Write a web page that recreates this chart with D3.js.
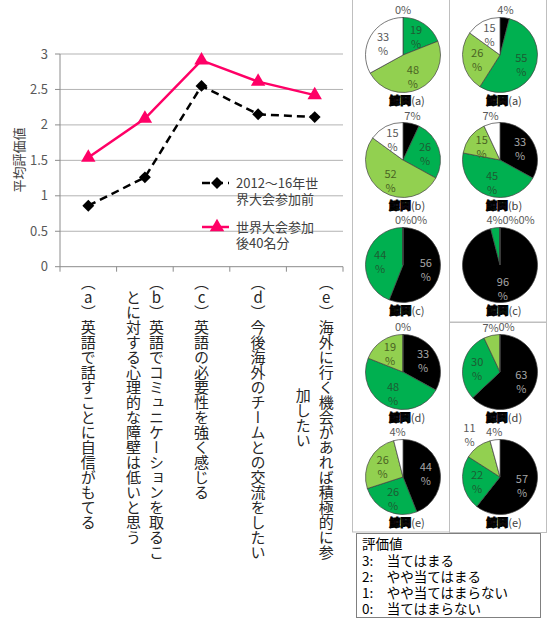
<!DOCTYPE html>
<html>
<head>
<meta charset="utf-8">
<script src="https://cdn.jsdelivr.net/npm/d3@7"></script>
<style>
  html, body { margin: 0; padding: 0; background: #fff; }
  svg { display: block; font-family: "Noto Sans CJK JP", "Noto Sans", sans-serif; }
</style>
</head>
<body>
<svg id="chart" width="547" height="618"></svg>
<script>
// ---- data ----
const items = ["a", "b", "c", "d", "e"];
const itemLabels = [
    ["（a）英語で話すことに自信がもてる"],
    ["（b）英語でコミュニケーションを取るこ", "とに対する心理的な障壁は低いと思う"],
    ["（c）英語の必要性を強く感じる"],
    ["（d）今後海外のチームとの交流をしたい"],
    ["（e）海外に行く機会があれば積極的に参", "加したい"]
];
const beforeMeans = [0.86, 1.26, 2.55, 2.15, 2.11];
const afterMeans = [1.54, 2.09, 2.91, 2.61, 2.42];
const seriesNames = [["2012～16年世", "界大会参加前"], ["世界大会参加", "後40名分"]];
const yTicks = [0, 0.5, 1, 1.5, 2, 2.5, 3];

// pie shares in % for score 3,2,1,0
const scoreLevels = [3, 2, 1, 0];
const scoreNames = ["当てはまる", "やや当てはまる", "やや当てはまらない", "当てはまらない"];
const beforePct = [[0, 19, 48, 33], [7, 26, 52, 15], [56, 44, 0, 0], [33, 48, 19, 0], [44, 26, 26, 4]];
const afterPct = [[4, 55, 26, 15], [33, 45, 15, 7], [96, 4, 0, 0], [63, 30, 7, 0], [57, 22, 11, 4]];
const pieTitle = "鯨岡";

const sliceColors = ["#000000", "#00b050", "#92d050", "#ffffff"];
const sliceText = ["#a6a6a6", "#1d5c33", "#4a6323", "#595959"];

const svg = d3.select("#chart");

// ---- line chart ----
const x = d3.scaleBand().domain(items).range([60, 343]);
const y = d3.scaleLinear().domain([0, 3]).range([266.7, 54]);

const g = svg.append("g");

g.selectAll("line.grid")
    .data(yTicks.slice(1)).join("line")
    .attr("x1", 60).attr("x2", 343)
    .attr("y1", d => y(d)).attr("y2", d => y(d))
    .attr("stroke", "#b3b3b3").attr("stroke-width", 1);

g.append("line").attr("x1", 60).attr("x2", 60).attr("y1", y(3)).attr("y2", y(0))
    .attr("stroke", "#8c8c8c");
g.append("line").attr("x1", 60).attr("x2", 343).attr("y1", y(0)).attr("y2", y(0))
    .attr("stroke", "#8c8c8c");

// tick marks at category boundaries
const bounds = items.map(d => x(d)).concat([343]);
g.selectAll("line.xt").data(bounds).join("line")
    .attr("x1", d => d).attr("x2", d => d)
    .attr("y1", y(0)).attr("y2", y(0) + 5)
    .attr("stroke", "#8c8c8c");
g.selectAll("line.yt").data(yTicks).join("line")
    .attr("x1", 55).attr("x2", 60)
    .attr("y1", d => y(d)).attr("y2", d => y(d))
    .attr("stroke", "#8c8c8c");

g.selectAll("text.ytl").data(yTicks).join("text")
    .attr("x", 48).attr("y", d => y(d) + 4.5)
    .attr("text-anchor", "end")
    .attr("font-size", 13).attr("fill", "#595959")
    .text(d => d);

g.append("text")
    .attr("transform", "translate(24,160) rotate(-90)")
    .attr("text-anchor", "middle")
    .attr("font-size", 13).attr("fill", "#404040")
    .text("平均評価値");

// vertical category labels
const labelTop = 275, lineGap = 23;
items.forEach((it, i) => {
    const lines = itemLabels[i];
    const cx = x(it) + x.bandwidth() / 2;
    const grp = g.append("g");
    const texts = grp.selectAll("text").data(lines).join("text")
        .attr("x", (d, j) => cx + (lines.length - 1) / 2 * lineGap - j * lineGap)
        .attr("y", labelTop)
        .attr("text-anchor", "middle")
        .attr("font-size", 15)
        .attr("fill", "#262626")
        .style("writing-mode", "vertical-rl")
        .style("text-orientation", "upright")
        .text(d => d);
    const maxLen = d3.max(texts.nodes(), n => n.getComputedTextLength());
    texts.attr("y", labelTop + maxLen / 2);
});

// series lines
const lineGen = d3.line().x((d, i) => x(items[i]) + x.bandwidth() / 2).y(d => y(d));

g.append("path").datum(beforeMeans)
    .attr("d", lineGen).attr("fill", "none")
    .attr("stroke", "#000").attr("stroke-width", 2.5)
    .attr("stroke-dasharray", "8,5");
g.append("path").datum(afterMeans)
    .attr("d", lineGen).attr("fill", "none")
    .attr("stroke", "#ff0066").attr("stroke-width", 2.5);

const diamond = d3.symbol().type(d3.symbolDiamond2).size(90);
const tri = d3.symbol().type(d3.symbolTriangle).size(90);

g.selectAll("path.dm").data(beforeMeans).join("path")
    .attr("d", diamond)
    .attr("transform", (d, i) => `translate(${x(items[i]) + x.bandwidth() / 2},${y(d)})`)
    .attr("fill", "#000");
g.selectAll("path.tr").data(afterMeans).join("path")
    .attr("d", tri)
    .attr("transform", (d, i) => `translate(${x(items[i]) + x.bandwidth() / 2},${y(d)})`)
    .attr("fill", "#ff0066");

// legend
const lg = g.append("g").attr("transform", "translate(202,183)");
lg.append("line").attr("x1", 0).attr("x2", 27).attr("y1", 0).attr("y2", 0)
    .attr("stroke", "#000").attr("stroke-width", 2.5).attr("stroke-dasharray", "8,5");
lg.append("path").attr("d", diamond).attr("transform", "translate(15,0)").attr("fill", "#000");
lg.append("line").attr("x1", 0).attr("x2", 27).attr("y1", 44).attr("y2", 44)
    .attr("stroke", "#ff0066").attr("stroke-width", 2.5);
lg.append("path").attr("d", tri).attr("transform", "translate(15,44)").attr("fill", "#ff0066");
seriesNames.forEach((nm, k) => {
    lg.append("text").attr("x", 34).attr("y", k * 44 + 5)
        .attr("font-size", 13).attr("fill", "#404040")
        .selectAll("tspan").data(nm).join("tspan")
        .attr("x", 34).attr("dy", (d, j) => j ? 16 : 0)
        .text(d => d);
});

// ---- pie panel ----
const panel = svg.append("g");
panel.append("rect").attr("x", 352.5).attr("y", -1).attr("width", 97).attr("height", 533)
    .attr("fill", "none").attr("stroke", "#bfbfbf");
panel.append("rect").attr("x", 449.5).attr("y", -1).attr("width", 97).attr("height", 323)
    .attr("fill", "none").attr("stroke", "#bfbfbf");
panel.append("rect").attr("x", 449.5).attr("y", 322.5).attr("width", 97).attr("height", 210)
    .attr("fill", "none").attr("stroke", "#bfbfbf");

const pieCols = [403, 500];
const pieRows = [55, 160, 265, 372, 477];
const r = 37.5;
const pie = d3.pie().sort(null).value(d => d);
const arc = d3.arc().innerRadius(0).outerRadius(r);

function drawPie(vals, cx, cy, title) {
    const pg = panel.append("g").attr("transform", `translate(${cx},${cy})`);
    const arcs = pie(vals);
    pg.selectAll("path").data(arcs).join("path")
        .attr("d", arc)
        .attr("fill", (d, i) => sliceColors[i])
        .attr("stroke", "#404040").attr("stroke-width", 0.7);

    let lastOut = null;
    arcs.forEach((a, i) => {
        const v = vals[i];
        const mid = (a.startAngle + a.endAngle) / 2;
        if (v >= 13) {
            const rr = r * 0.62;
            const px = Math.sin(mid) * rr, py = -Math.cos(mid) * rr;
            pg.append("text").attr("text-anchor", "middle").attr("font-size", 11)
                .attr("fill", sliceText[i])
                .selectAll("tspan").data([v, "%"]).join("tspan")
                .attr("x", px).attr("y", (d, j) => py - 2 + j * 14)
                .text(d => d);
        } else {
            const rr = r + (v >= 10 ? 14 : 6);
            let px = Math.sin(mid) * rr, py = -Math.cos(mid) * rr;
            if (lastOut && Math.abs(px - lastOut[0]) < 16 && Math.abs(py - lastOut[1]) < 10) px = lastOut[0] + 16;
            lastOut = [px, py];
            const t = pg.append("text").attr("text-anchor", "middle").attr("font-size", 11)
                .attr("fill", "#595959");
            if (v >= 10) {
                t.selectAll("tspan").data([v, "%"]).join("tspan")
                    .attr("x", px).attr("y", (d, j) => py - 4 + j * 14).text(d => d);
            } else {
                t.attr("x", px).attr("y", py + 2).text(v + "%");
            }
        }
    });

    const tt = pg.append("text").attr("x", 4).attr("y", r + 12)
        .attr("text-anchor", "middle").attr("font-size", 11);
    tt.append("tspan").attr("font-weight", 900).attr("fill", "#000")
        .attr("stroke", "#000").attr("stroke-width", 0.8).text(pieTitle);
    tt.append("tspan").attr("fill", "#404040").text("(" + title + ")");
}

items.forEach((it, i) => {
    drawPie(beforePct[i], pieCols[0], pieRows[i], it);
    drawPie(afterPct[i], pieCols[1], pieRows[i], it);
});

// score legend
const sl = svg.append("g").attr("transform", "translate(356,533)");
sl.append("rect").attr("x", 0.5).attr("y", 0.5).attr("width", 184).attr("height", 84)
    .attr("fill", "#fff").attr("stroke", "#808080");
sl.append("text").attr("x", 6).attr("y", 16).attr("font-size", 13.5).attr("fill", "#000").text("評価値");
sl.selectAll("text.sc").data(scoreLevels).join("text")
    .attr("x", 6).attr("y", (d, i) => 33 + i * 16)
    .attr("font-size", 13.5).attr("fill", "#000")
    .text((d, i) => d + ":　" + scoreNames[i]);
</script>
</body>
</html>
